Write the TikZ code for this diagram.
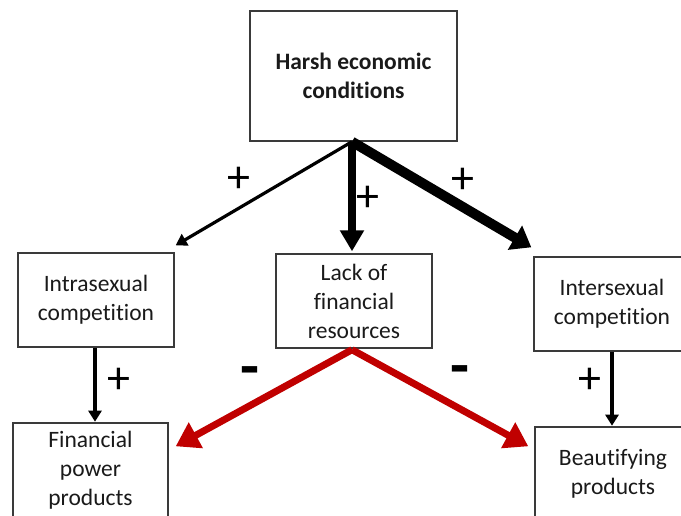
\documentclass[tikz,border=0pt]{standalone}
\usepackage{fontspec}
\setmainfont{Carlito}[Ligatures={NoCommon}]
\usetikzlibrary{arrows.meta,calc}
\definecolor{darkred}{HTML}{C00000}
\definecolor{boxline}{HTML}{3A3A3A}
\definecolor{txt}{HTML}{1A1A1A}
\begin{document}
\begin{tikzpicture}[x=1pt,y=-1pt,
  box/.style={draw=boxline,line width=1.4pt,fill=white,align=center,inner sep=0pt,
    text=txt,font=\fontsize{23.5}{29}\selectfont,minimum width=156pt,minimum height=94pt},
  sign/.style={inner sep=0pt,text=black,font=\fontsize{46}{46}\selectfont},
  neg/.style={inner sep=0pt,text=black,font=\bfseries\fontsize{62}{62}\selectfont},
  thinarrow/.style={draw=black,line width=3.2pt,-{Triangle[length=11pt,width=13pt]}},
  midarrow/.style={draw=black,line width=8pt,-{Triangle[length=21pt,width=23pt]}},
  widearrow/.style={draw=black,line width=10pt,-{Triangle[length=19pt,width=27pt]}},
  redarrow/.style={draw=darkred,line width=7pt,-{Triangle[length=23pt,width=28pt]}},
  vertarrow/.style={draw=black,line width=3.2pt,-{Triangle[length=11pt,width=13pt]}}
]
\clip (0,0) rectangle (681,515);
\fill[white] (0,0) rectangle (681,515);

\node[box,minimum width=207pt,minimum height=130pt,font=\bfseries\fontsize{23.5}{29}\selectfont] (top) at (353.5,76) {Harsh economic\\conditions};
\node[box] (intra) at (96,300) {Intrasexual\\competition};
\node[box] (lack) at (354,301) {Lack of\\financial\\resources};
\node[box] (inter) at (612,304) {Intersexual\\competition};
\node[box,minimum width=155pt] (fin) at (90.5,470) {Financial\\power\\products};
\node[box] (beaut) at (613,474) {Beautifying\\products};

\coordinate (src) at ($(top.south)+(-1.5,0)$);
\coordinate (intraend) at ($(intra.north east)+(1,-7)$);
\coordinate (lackend) at ($(lack.north)+(-2,-2)$);
\coordinate (interend) at ($(inter.north west)+(-2,-9)$);
\coordinate (redsrc) at ($(lack.south)+(-2,1)$);
\coordinate (finend) at ($(fin.north east)+(7,24)$);
\coordinate (beautend) at ($(beaut.north west)+(-6,20)$);

\draw[thinarrow] (src) -- (intraend);
\draw[midarrow] (src) -- (lackend);
\draw[widearrow] (src) -- (interend);
\draw[redarrow] (redsrc) -- (finend);
\draw[redarrow] (redsrc) -- (beautend);
\draw[vertarrow] ($(intra.south)+(-1,0)$) -- ($(intra.south)+(-1,74)$) coordinate (intraarrowend);
\draw[vertarrow] ($(inter.south)+(0,0)$) -- ($(inter.south)+(0,74)$) coordinate (interarrowend);

\node[sign] (p1) at (239,180) {+};
\node[sign] (p2) at (368,199) {+};
\node[sign] (p3) at (463,181) {+};
\node[sign] (p4) at (119,381) {+};
\node[sign] (p5) at (590,381) {+};
\node[neg] (m1) at (250,377) {-};
\node[neg] (m2) at (460,376) {-};
\end{tikzpicture}
\end{document}
